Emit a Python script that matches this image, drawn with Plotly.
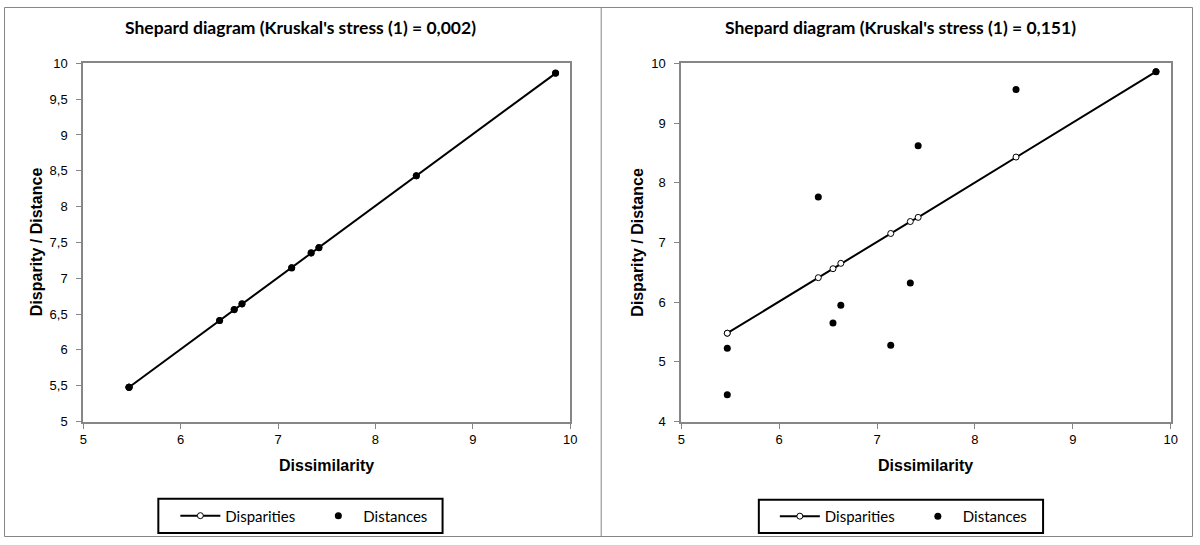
import plotly.graph_objects as go

W, H = 1200, 545

# ---- data ----
dissimilarity = [5.47, 5.47, 6.40, 6.55, 6.63, 7.14, 7.34, 7.42, 8.42, 9.85]

left_disparities = [5.48, 5.48, 6.41, 6.56, 6.64, 7.15, 7.35, 7.43, 8.43, 9.86]
left_distances = [5.48, 5.48, 6.41, 6.565, 6.643, 7.145, 7.355, 7.426, 8.432, 9.865]

right_disparities = [5.48, 5.48, 6.41, 6.56, 6.65, 7.15, 7.35, 7.42, 8.43, 9.86]
right_distances = [5.23, 4.45, 7.76, 5.65, 5.95, 5.28, 6.32, 8.62, 9.56, 9.86]

left_title = "Shepard diagram (Kruskal's stress (1) = 0,002)"
right_title = "Shepard diagram (Kruskal's stress (1) = 0,151)"

x_tickvals = [5, 6, 7, 8, 9, 10]
x_ticktext = ["5", "6", "7", "8", "9", "10"]
left_y_tickvals = [5, 5.5, 6, 6.5, 7, 7.5, 8, 8.5, 9, 9.5, 10]
left_y_ticktext = ["5", "5,5", "6", "6,5", "7", "7,5", "8", "8,5", "9", "9,5", "10"]
right_y_tickvals = [4, 5, 6, 7, 8, 9, 10]
right_y_ticktext = ["4", "5", "6", "7", "8", "9", "10"]

# ---- styling ----
GRAY = "#868686"
TICKFONT = dict(family="Liberation Sans, Arial", size=13, color="#000000")
AXTITLEFONT = dict(family="Liberation Sans, Arial", size=16, color="#000000")
TITLEFONT = dict(family="Lato, Open Sans", size=17.5, color="#000000")
LEGFONT = dict(family="Lato, Open Sans", size=15, color="#000000")

# layout positions are given in target-picture pixels and mapped to paper
SX, BX = 0.990, 3.8
SY, BY = 0.969, 7.9

def px(x):
    return ((x - BX) / SX) / W

def py(y):
    return 1 - ((y - BY) / SY) / H

fig = go.Figure()

def add_panel(xa, ya, leg, disp, dist):
    fig.add_trace(go.Scatter(
        x=dissimilarity, y=disp, mode="lines+markers", name="Disparities",
        line=dict(color="#000000", width=2),
        marker=dict(symbol="circle", size=6, color="#ffffff",
                    line=dict(color="#000000", width=1)),
        xaxis=xa, yaxis=ya, legend=leg, showlegend=True))
    fig.add_trace(go.Scatter(
        x=dissimilarity, y=dist, mode="markers", name="Distances",
        marker=dict(symbol="circle", size=7, color="#000000",
                    line=dict(width=0)),
        xaxis=xa, yaxis=ya, legend=leg, showlegend=True))

add_panel("x", "y", "legend", left_disparities, left_distances)
add_panel("x2", "y2", "legend2", right_disparities, right_distances)

axis_common = dict(showgrid=False, zeroline=False, showline=True, mirror=True,
                   linecolor=GRAY, linewidth=2, ticks="outside", ticklen=5,
                   tickcolor=GRAY, tickwidth=1, tickfont=TICKFONT,
                   fixedrange=True)

y_dom = [py(421), py(64)]
leg_common = dict(orientation="h", xanchor="left", yanchor="middle",
                  borderwidth=0, bgcolor="rgba(0,0,0,0)",
                  font=LEGFONT, entrywidth=83, itemwidth=40, traceorder="normal")
fig.update_layout(
    width=W, height=H, autosize=False,
    margin=dict(l=0, r=0, t=0, b=0),
    paper_bgcolor="#ffffff", plot_bgcolor="#ffffff",
    separators=", ",
    xaxis=dict(domain=[px(83), px(569.5)], range=[5, 10], anchor="y",
               tickvals=x_tickvals, ticktext=x_ticktext, **axis_common),
    yaxis=dict(domain=y_dom, range=[5, 10], anchor="x", ticklabelstandoff=6,
               tickvals=left_y_tickvals, ticktext=left_y_ticktext, **axis_common),
    xaxis2=dict(domain=[px(680.5), px(1169.5)], range=[5, 10], anchor="y2",
                tickvals=x_tickvals, ticktext=x_ticktext, **axis_common),
    yaxis2=dict(domain=y_dom, range=[4, 10], anchor="x2", ticklabelstandoff=6,
                tickvals=right_y_tickvals, ticktext=right_y_ticktext, **axis_common),
    legend=dict(x=px(175), y=py(515), **leg_common),
    legend2=dict(x=px(774), y=py(515.5), **leg_common),
    showlegend=True,
)

annotations = []
for cx, title, pcx in [(300, left_title, 326), (900, right_title, 925)]:
    annotations.append(dict(text="<b>%s</b>" % title, x=px(cx), y=py(28.5),
                            xref="paper", yref="paper", showarrow=False,
                            xanchor="center", yanchor="middle", font=TITLEFONT))
    annotations.append(dict(text="<b>Dissimilarity</b>", x=px(pcx), y=py(465),
                            xref="paper", yref="paper", showarrow=False,
                            xanchor="center", yanchor="middle", font=AXTITLEFONT))
for cx in [37, 637]:
    annotations.append(dict(text="<b>Disparity / Distance</b>", x=px(cx), y=py(242),
                            xref="paper", yref="paper", showarrow=False, textangle=-90,
                            xanchor="center", yanchor="middle", font=AXTITLEFONT))
fig.update_layout(annotations=annotations)

shapes = [
    dict(type="rect", xref="paper", yref="paper", x0=0.5 / W, x1=1 - 0.5 / W,
         y0=0.5 / H, y1=1 - 0.5 / H, line=dict(color=GRAY, width=1)),
    dict(type="line", xref="paper", yref="paper", x0=px(600.5), x1=px(600.5),
         y0=0, y1=1, line=dict(color=GRAY, width=1)),
    dict(type="rect", xref="paper", yref="paper", x0=px(158), x1=px(442),
         y0=py(532), y1=py(498), line=dict(color="#000000", width=2)),
    dict(type="rect", xref="paper", yref="paper", x0=px(758), x1=px(1042),
         y0=py(532), y1=py(499), line=dict(color="#000000", width=2)),
]
fig.update_layout(shapes=shapes)

post = (
    "var s=document.createElement('style');"
    "s.innerHTML='html,body{margin:0 !important;padding:0 !important;overflow:hidden;}';"
    "document.head.appendChild(s);"
)
fig.write_html("out.html", config={"displayModeBar": False}, post_script=post)
